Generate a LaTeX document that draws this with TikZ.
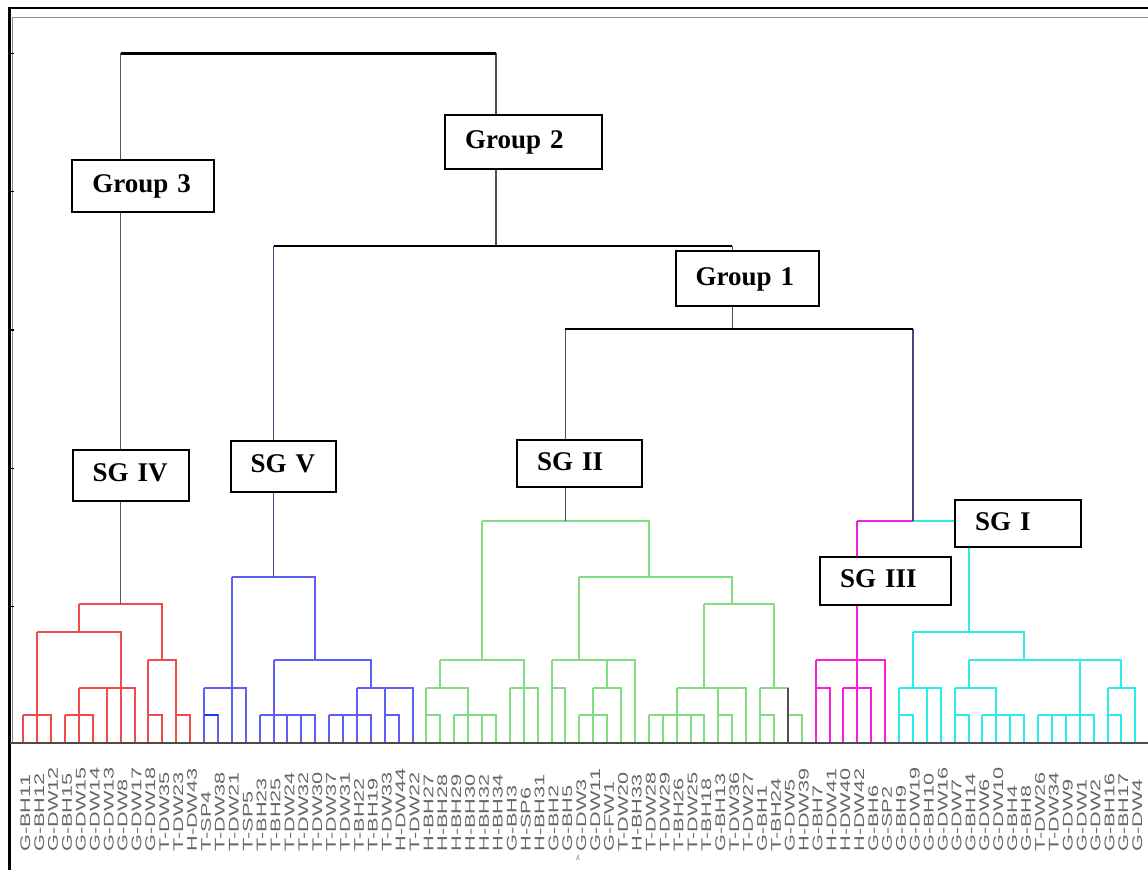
\documentclass[tikz,border=0pt]{standalone}
\usepackage{fontspec}
\setmainfont{Liberation Serif}
\newfontfamily\leaffont{Liberation Sans}
\newfontfamily\symbolfont{DejaVu Sans}

\definecolor{redl}{RGB}{240,75,75}
\definecolor{bluel}{RGB}{95,95,245}
\definecolor{blued}{RGB}{20,60,235}
\definecolor{greenl}{RGB}{130,220,130}
\definecolor{magl}{RGB}{250,30,220}
\definecolor{cyanl}{RGB}{45,235,235}
\definecolor{trunkred}{RGB}{110,80,80}
\definecolor{trunkblue}{RGB}{70,70,120}
\definecolor{trunkgray}{RGB}{80,80,80}

% leaf index -> x, merge level -> y (pixels, y downwards)
\newcommand{\leafx}[1]{(23.3+13.9*(#1-1))}
\newcommand{\levely}[1]{(743-27.7*(#1))}
% one merge: style, level, leftmost leaf, children as leaf/level
\newcommand{\dmerge}[4][]{%
  \foreach \c/\k in {#4}
    \draw[#1] ({\leafx{\c}},{\levely{\k}}) |- ({\leafx{#3}},{\levely{#2}});}

\tikzset{
  branch/.style={line width=1pt},
  trunk/.style={line width=0.7pt},
  topbar/.style={line width=1.3pt, black},
  labelbox/.style={draw=black, line width=1pt, fill=white, inner xsep=10pt,
    align=left, text height=0.66em, text depth=0pt,
    font=\bfseries\fontsize{13.5}{16}\selectfont},
  leaf/.style={rotate=90, anchor=west, inner sep=0pt, text=black!60,
    font=\leaffont\fontsize{7}{8}\selectfont}
}

\begin{document}
\begin{tikzpicture}[x=0.5pt, y=-0.5pt]
    \useasboundingbox (0,0) rectangle (1148,870);

    % frame and axes
    \draw[line width=1.2pt] (9.5,870) -- (9.5,8.3) -- (1148,8.3);
    \draw[black!45, line width=0.7pt] (12.3,743) -- (12.3,17.5) -- (1148,17.5);
    \foreach \t in {53.3,191.7,330,468.3,606.7}
        \draw[line width=0.6pt] (9.5,\t) -- (13.5,\t);

    % SG IV (red)
    \dmerge[branch, redl]{1}{1}{1/0, 2/0, 3/0}
    \dmerge[branch, redl]{1}{4}{4/0, 5/0, 6/0}
    \dmerge[branch, redl]{2}{5}{5/1, 7/0, 8/0, 9/0}
    \dmerge[branch, redl]{4}{2}{2/1, 8/2}
    \dmerge[branch, redl]{1}{10}{10/0, 11/0}
    \dmerge[branch, redl]{1}{12}{12/0, 13/0}
    \dmerge[branch, redl]{3}{10}{10/1, 12/1}
    \dmerge[branch, redl]{5}{5}{5/4, 11/3}

    % SG V (blue)
    \dmerge[branch, bluel]{1}{14}{14/0, 15/0}
    \draw[branch, blued] ({\leafx{14}},{\levely{1}}) -- ({\leafx{15}},{\levely{1}});
    \dmerge[branch, bluel]{2}{14}{14/1, 16/0, 17/0}
    \dmerge[branch, bluel]{1}{18}{18/0, 19/0, 20/0, 21/0, 22/0}
    \dmerge[branch, bluel]{1}{23}{23/0, 24/0, 25/0, 26/0}
    \dmerge[branch, bluel]{1}{27}{27/0, 28/0}
    \dmerge[branch, bluel]{2}{25}{25/1, 27/1, 29/0}
    \dmerge[branch, bluel]{3}{19}{19/1, 26/2}
    \dmerge[branch, bluel]{6}{16}{16/2, 22/3}

    % SG II (green)
    \dmerge[branch, greenl]{1}{30}{30/0, 31/0}
    \dmerge[branch, greenl]{1}{32}{32/0, 33/0, 34/0, 35/0}
    \dmerge[branch, greenl]{2}{30}{30/1, 33/1}
    \dmerge[branch, greenl]{2}{36}{36/0, 37/0, 38/0}
    \dmerge[branch, greenl]{3}{31}{31/2, 37/2}
    \dmerge[branch, greenl]{2}{39}{39/0, 40/0}
    \dmerge[branch, greenl]{1}{41}{41/0, 42/0, 43/0}
    \dmerge[branch, greenl]{2}{42}{42/1, 44/0}
    \dmerge[branch, greenl]{3}{39}{39/2, 43/2, 45/0}
    \dmerge[branch, greenl]{1}{46}{46/0, 47/0, 48/0, 49/0, 50/0}
    \dmerge[branch, greenl]{1}{51}{51/0, 52/0}
    \dmerge[branch, greenl]{2}{48}{48/1, 51/1, 53/0}
    \dmerge[branch, greenl]{1}{54}{54/0, 55/0}
    \dmerge[branch, greenl]{1}{56}{56/0, 57/0}
    \dmerge[branch, greenl]{2}{54}{54/1, 56/1}
    \draw[branch, trunkgray] ({\leafx{56}},{\levely{0}}) -- ({\leafx{56}},{\levely{2}});
    \dmerge[branch, greenl]{5}{50}{50/2, 55/2}
    \dmerge[branch, greenl]{6}{41}{41/3, 52/5}
    \dmerge[branch, greenl]{8}{34}{34/3, 46/6}

    % SG III (magenta)
    \dmerge[branch, magl]{2}{58}{58/0, 59/0}
    \dmerge[branch, magl]{2}{60}{60/0, 61/0, 62/0}
    \dmerge[branch, magl]{3}{58}{58/2, 61/2, 63/0}

    % SG I (cyan)
    \dmerge[branch, cyanl]{1}{64}{64/0, 65/0}
    \dmerge[branch, cyanl]{2}{64}{64/1, 66/0, 67/0}
    \dmerge[branch, cyanl]{1}{68}{68/0, 69/0}
    \dmerge[branch, cyanl]{1}{70}{70/0, 71/0, 72/0, 73/0}
    \dmerge[branch, cyanl]{2}{68}{68/1, 71/1}
    \dmerge[branch, cyanl]{1}{74}{74/0, 75/0, 76/0, 77/0, 78/0}
    \dmerge[branch, cyanl]{1}{79}{79/0, 80/0}
    \dmerge[branch, cyanl]{2}{79}{79/1, 81/0}
    \dmerge[branch, cyanl]{3}{69}{69/2, 77/1, 80/2}
    \dmerge[branch, cyanl]{4}{65}{65/2, 73/3}

    % SG III + SG I
    \dmerge[branch, magl]{8}{61}{61/3, 65/8}
    \dmerge[branch, cyanl]{8}{65}{69/4}

    % upper branches
    \draw[trunk, trunkred] ({\leafx{8}},{\levely{5}}) -- ({\leafx{8}},53.3);
    \draw[trunk, trunkblue] ({\leafx{19}},{\levely{6}}) -- ({\leafx{19}},246);
    \draw[trunk, trunkgray] ({\leafx{40}},{\levely{8}}) -- ({\leafx{40}},329);
    \draw[trunk, trunkblue] ({\leafx{65}},{\levely{8}}) -- ({\leafx{65}},329);
    \draw[trunk, trunkgray] ({\leafx{52}},329) -- ({\leafx{52}},246);
    \draw[trunk, trunkgray] ({\leafx{35}},246) -- ({\leafx{35}},53.3);
    \draw[topbar] ({\leafx{40}},329) -- ({\leafx{65}},329);
    \draw[topbar] ({\leafx{19}},246) -- ({\leafx{52}},246);
    \draw[topbar] ({\leafx{8}},53.3) -- ({\leafx{35}},53.3);

    % baseline
    \draw[black!70, line width=1.3pt] (9.5,743) -- (1148,743);

    % leaf labels
    \foreach \name [count=\i] in {G-BH11, G-BH12, G-DW12, G-BH15, G-DW15,
        G-DW14, G-DW13, G-DW8, G-DW17, G-DW18, T-DW35, T-DW23, H-DW43, T-SP4,
        T-DW38, T-DW21, T-SP5, T-BH23, T-BH25, T-DW24, T-DW32, T-DW30, T-DW37,
        T-DW31, T-BH22, T-BH19, T-DW33, H-DW44, T-DW22, H-BH27, H-BH28, H-BH29,
        H-BH30, H-BH32, H-BH34, G-BH3, H-SP6, H-BH31, G-BH2, G-BH5, G-DW3,
        G-DW11, G-FW1, T-DW20, H-BH33, T-DW28, T-DW29, T-BH26, T-DW25, T-BH18,
        G-BH13, T-DW36, T-DW27, G-BH1, T-BH24, G-DW5, H-DW39, G-BH7, H-DW41,
        H-DW40, H-DW42, G-BH6, G-SP2, G-BH9, G-DW19, G-BH10, G-DW16, G-DW7,
        G-BH14, G-DW6, G-DW10, G-BH4, G-BH8, T-DW26, T-DW34, G-DW9, G-DW1,
        G-DW2, G-BH16, G-BH17, G-DW4}
        \node[leaf] (n\i) at ({\leafx{\i}+2},852) {\scalebox{1.55}[1]{\name}};
    \node[text=black!55, font=\symbolfont\fontsize{3.5}{4}\selectfont, inner sep=0pt]
        (mark) at (578,858) {ʎ};

    % group labels
    \node[labelbox, text width=58.35pt, minimum height=27.15pt] (grp2) at (523.35,142.15) {Group 2};
    \node[labelbox, text width=51pt, minimum height=25.85pt] (grp3) at (143.3,185.85) {Group 3};
    \node[labelbox, text width=51.8pt, minimum height=27.5pt] (grp1) at (747.5,278.5) {Group 1};
    \node[labelbox, text width=38.15pt, minimum height=25.35pt] (sg4) at (130.85,475.35) {SG IV};
    \node[labelbox, text width=32.65pt, minimum height=25.5pt] (sg5) at (283.35,466.2) {SG V};
    \node[labelbox, text width=42.5pt, minimum height=23.5pt] (sg2) at (579.5,463.5) {SG II};
    \node[labelbox, text width=43pt, minimum height=23.5pt] (sg1) at (1018,523.5) {SG I};
    \node[labelbox, text width=45.5pt, minimum height=24pt] (sg3) at (885.5,581) {SG III};
\end{tikzpicture}
\end{document}
